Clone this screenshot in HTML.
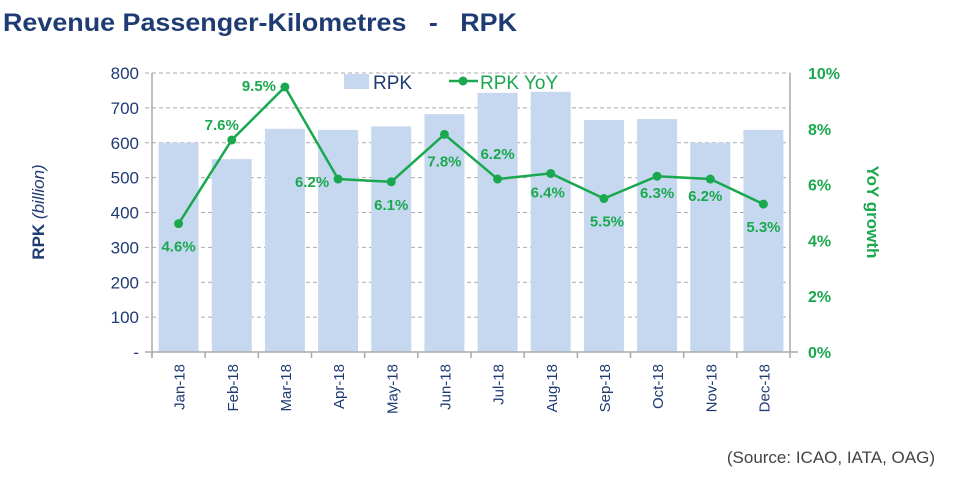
<!DOCTYPE html>
<html><head><meta charset="utf-8"><style>
body{margin:0;background:#fff;width:959px;height:481px;overflow:hidden;font-family:"Liberation Sans",sans-serif}
</style></head><body>
<svg id="chart" width="959" height="481" xmlns="http://www.w3.org/2000/svg">
<text x="3" y="31" font-size="25" font-weight="bold" fill="#1f3b73" style="white-space:pre" textLength="514" lengthAdjust="spacingAndGlyphs">Revenue Passenger-Kilometres   -   RPK</text>
<g id="grid"></g><g id="bars"></g><g id="axes"></g><g id="line"></g><g id="labels"></g>
<g>
<rect x="344" y="74" width="25" height="15" fill="#c6d8f0"/>
<text x="373" y="89" font-size="19" fill="#1f3b73">RPK</text>
<line x1="449" y1="81" x2="478" y2="81" stroke="#1aa84f" stroke-width="2.5"/>
<circle cx="463" cy="81" r="4.5" fill="#1aa84f"/>
<text x="480" y="89" font-size="19" fill="#1aa84f">RPK YoY</text>
</g>
<text transform="translate(44,212) rotate(-90)" text-anchor="middle" font-size="17" fill="#1f3b73"><tspan font-weight="bold">RPK </tspan><tspan font-style="italic">(billion)</tspan></text>
<text transform="translate(867,212) rotate(90)" text-anchor="middle" font-size="17" font-weight="bold" fill="#1aa84f">YoY growth</text>
<text x="935" y="463" text-anchor="end" font-size="17" fill="#444">(Source: ICAO, IATA, OAG)</text>
</svg>
<script>
const categories=["Jan-18","Feb-18","Mar-18","Apr-18","May-18","Jun-18","Jul-18","Aug-18","Sep-18","Oct-18","Nov-18","Dec-18"];
const rpkValues=[600,553,640,637,647,682,743,746,665,668,600,637];
const yoyValues=[4.6,7.6,9.5,6.2,6.1,7.8,6.2,6.4,5.5,6.3,6.2,5.3];
const leftTicks=[0,100,200,300,400,500,600,700,800];
const rightTicks=[0,2,4,6,8,10];
const labelPos=[[0,22],[-10,-16],[-26,-2],[-26,2],[0,22],[0,26],[0,-26],[-3,18],[3,22],[0,16],[-5,16],[0,22]];
const NS="http://www.w3.org/2000/svg";
const X0=152,X1=790,Y0=352,Y1=73,slot=(X1-X0)/categories.length;
const y=v=>Y0-(v/800)*(Y0-Y1);
const y2=v=>Y0-(v/10)*(Y0-Y1);
const xc=i=>X0+slot*(i+0.5);
function mk(tag,attrs,parent){const e=document.createElementNS(NS,tag);for(const k in attrs)e.setAttribute(k,attrs[k]);document.getElementById(parent).appendChild(e);return e;}
leftTicks.forEach(t=>{
 if(t>0){const g=mk('line',{x1:145,x2:X1,y1:y(t),y2:y(t),stroke:'#aaa','stroke-dasharray':'4,3'},'grid');
 
 }
 const tx=mk('text',{x:139,y:y(t)+6,'text-anchor':'end','font-size':17,fill:'#1f3b73'},'axes');
 tx.textContent=t===0?'-':t;
 
 
});
rightTicks.forEach(t=>{
 const tx=mk('text',{x:808,y:y2(t)+6,'font-size':16,'font-weight':'bold',fill:'#1aa84f'},'axes');
 tx.textContent=t+'%';
 
 
});
mk('line',{x1:X0,x2:X0,y1:Y1,y2:Y0+6,stroke:'#aaa','stroke-width':1.5},'axes');
mk('line',{x1:X1,x2:X1,y1:Y1,y2:Y0+6,stroke:'#aaa','stroke-width':1.5},'axes');
mk('line',{x1:145,x2:X1+8,y1:Y0,y2:Y0,stroke:'#aaa','stroke-width':1.5},'axes');
categories.forEach((c,i)=>{
 mk('line',{x1:X0+slot*i,x2:X0+slot*i,y1:Y0,y2:Y0+6,stroke:'#aaa','stroke-width':1.5},'axes');
 const b=mk('rect',{x:xc(i)-20,y:y(rpkValues[i]),width:40,height:Y0-y(rpkValues[i]),fill:'#c6d8f0'},'bars');
 
 
 const t=mk('text',{transform:`translate(${xc(i)+6},${Y0+12}) rotate(-90)`,'text-anchor':'end','font-size':15,fill:'#1f3b73'},'axes');
 t.textContent=c;
 
 
});
const pl=mk('polyline',{points:yoyValues.map((v,i)=>xc(i)+','+y2(v)).join(' '),fill:'none',stroke:'#1aa84f','stroke-width':2.5},'line');


yoyValues.forEach((v,i)=>{
 const p=mk('circle',{cx:xc(i),cy:y2(v),r:4.5,fill:'#1aa84f'},'line');
 
 
 const t=mk('text',{x:xc(i)+labelPos[i][0],y:y2(v)+labelPos[i][1]+6,'text-anchor':'middle','font-size':15,'font-weight':'bold',fill:'#1aa84f'},'labels');
 t.textContent=v.toFixed(1)+'%';
 
 
});
</script>
</body></html>
